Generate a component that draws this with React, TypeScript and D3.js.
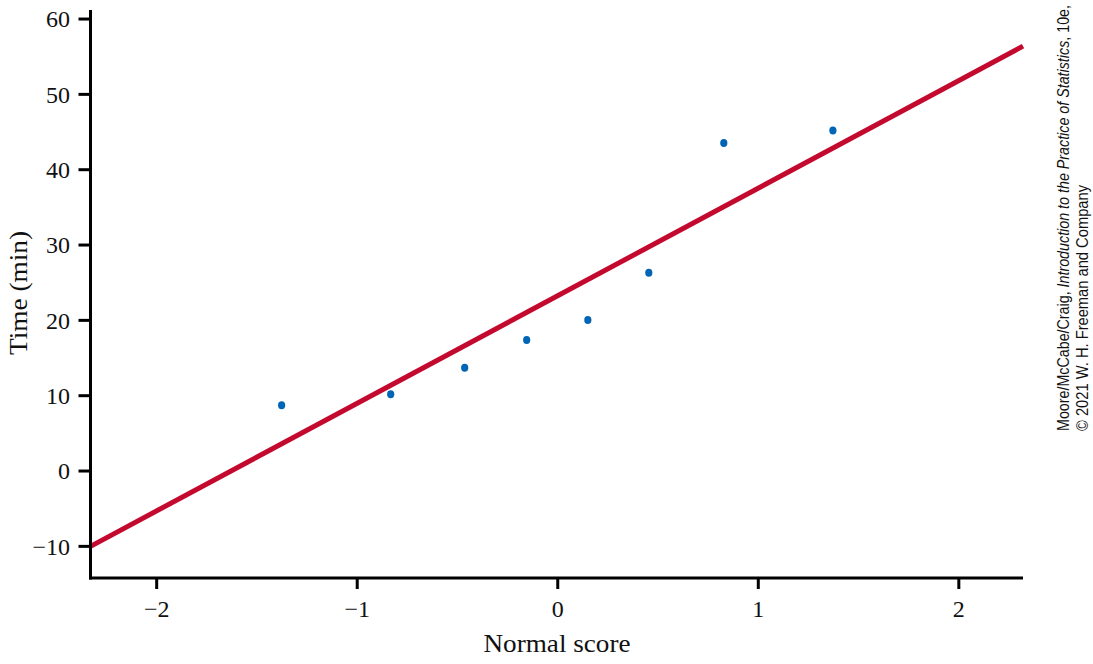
import React from "react";
import * as d3 from "d3";

const normalScores = [-1.377, -0.833, -0.464, -0.155, 0.15, 0.454, 0.828, 1.372];
const times = [8.72, 10.19, 13.72, 17.4, 20.05, 26.33, 43.56, 45.19];
const fitLineX = [-2.33, 2.32];
const fitLineY = [-10, 56.4];
const xTicks = [-2, -1, 0, 1, 2];
const yTicks = [-10, 0, 10, 20, 30, 40, 50, 60];

const fmt = (v: number) => (v < 0 ? "\u2212" + Math.abs(v) : String(v));

export default function App() {
  const x = d3.scaleLinear().domain([-2.33, 2.32]).range([90.5, 1023]);
  const y = d3.scaleLinear().domain([-14.2, 61.2]).range([578, 10]);
  const serif = "'Liberation Serif', 'Times New Roman', serif";
  const line = d3
    .line<number>()
    .x((_, i) => x(fitLineX[i]))
    .y((d) => y(d));
  const x0 = x.range()[0];
  const yBottom = y.range()[0];

  return (
    <svg
      width={1093}
      height={664}
      style={{ position: "absolute", left: 0, top: 0, background: "#fff" }}
    >
      <path d={line(fitLineY) || ""} stroke="#c4092f" strokeWidth={5} fill="none" />
      {normalScores.map((s, i) => (
        <ellipse key={i} cx={x(s)} cy={y(times[i])} rx={3.6} ry={4} fill="#0065b5" />
      ))}
      {/* axes */}
      <line x1={x0} x2={x0} y1={y.range()[1]} y2={yBottom + 1.5} stroke="#000" strokeWidth={3} />
      <line x1={x0 - 1.5} x2={x.range()[1]} y1={yBottom} y2={yBottom} stroke="#000" strokeWidth={3} />
      {yTicks.map((t) => (
        <g key={"y" + t}>
          <line x1={x0 - 12} x2={x0} y1={y(t)} y2={y(t)} stroke="#000" strokeWidth={3} />
          <text
            x={70}
            y={y(t)}
            dy="0.35em"
            textAnchor="end"
            fontFamily={serif}
            fontSize={24}
            fill="#111"
          >
            {fmt(t)}
          </text>
        </g>
      ))}
      {xTicks.map((t) => (
        <g key={"x" + t}>
          <line x1={x(t)} x2={x(t)} y1={yBottom} y2={yBottom + 11} stroke="#000" strokeWidth={3} />
          <text
            x={x(t)}
            y={617}
            textAnchor="middle"
            fontFamily={serif}
            fontSize={24}
            fill="#111"
          >
            {fmt(t)}
          </text>
        </g>
      ))}
      <text
        x={557}
        y={652}
        textAnchor="middle"
        fontFamily={serif}
        fontSize={25}
        fill="#111"
        textLength={147}
        lengthAdjust="spacingAndGlyphs"
      >
        Normal score
      </text>
      <text
        transform="translate(27,293) rotate(-90)"
        textAnchor="middle"
        fontFamily={serif}
        fontSize={25}
        fill="#111"
        textLength={124}
        lengthAdjust="spacingAndGlyphs"
      >
        Time (min)
      </text>
      <g fontFamily="'Liberation Sans', Arial, sans-serif" fontSize={16} fill="#111">
        <text
          transform="translate(1069,431) rotate(-90)"
          textLength={426}
          lengthAdjust="spacingAndGlyphs"
        >
          Moore/McCabe/Craig, <tspan fontStyle="italic">Introduction to the Practice of Statistics</tspan>, 10e,
        </text>
        <text
          transform="translate(1088,431) rotate(-90)"
          textLength={246}
          lengthAdjust="spacingAndGlyphs"
        >
          © 2021 W. H. Freeman and Company
        </text>
      </g>
    </svg>
  );
}
